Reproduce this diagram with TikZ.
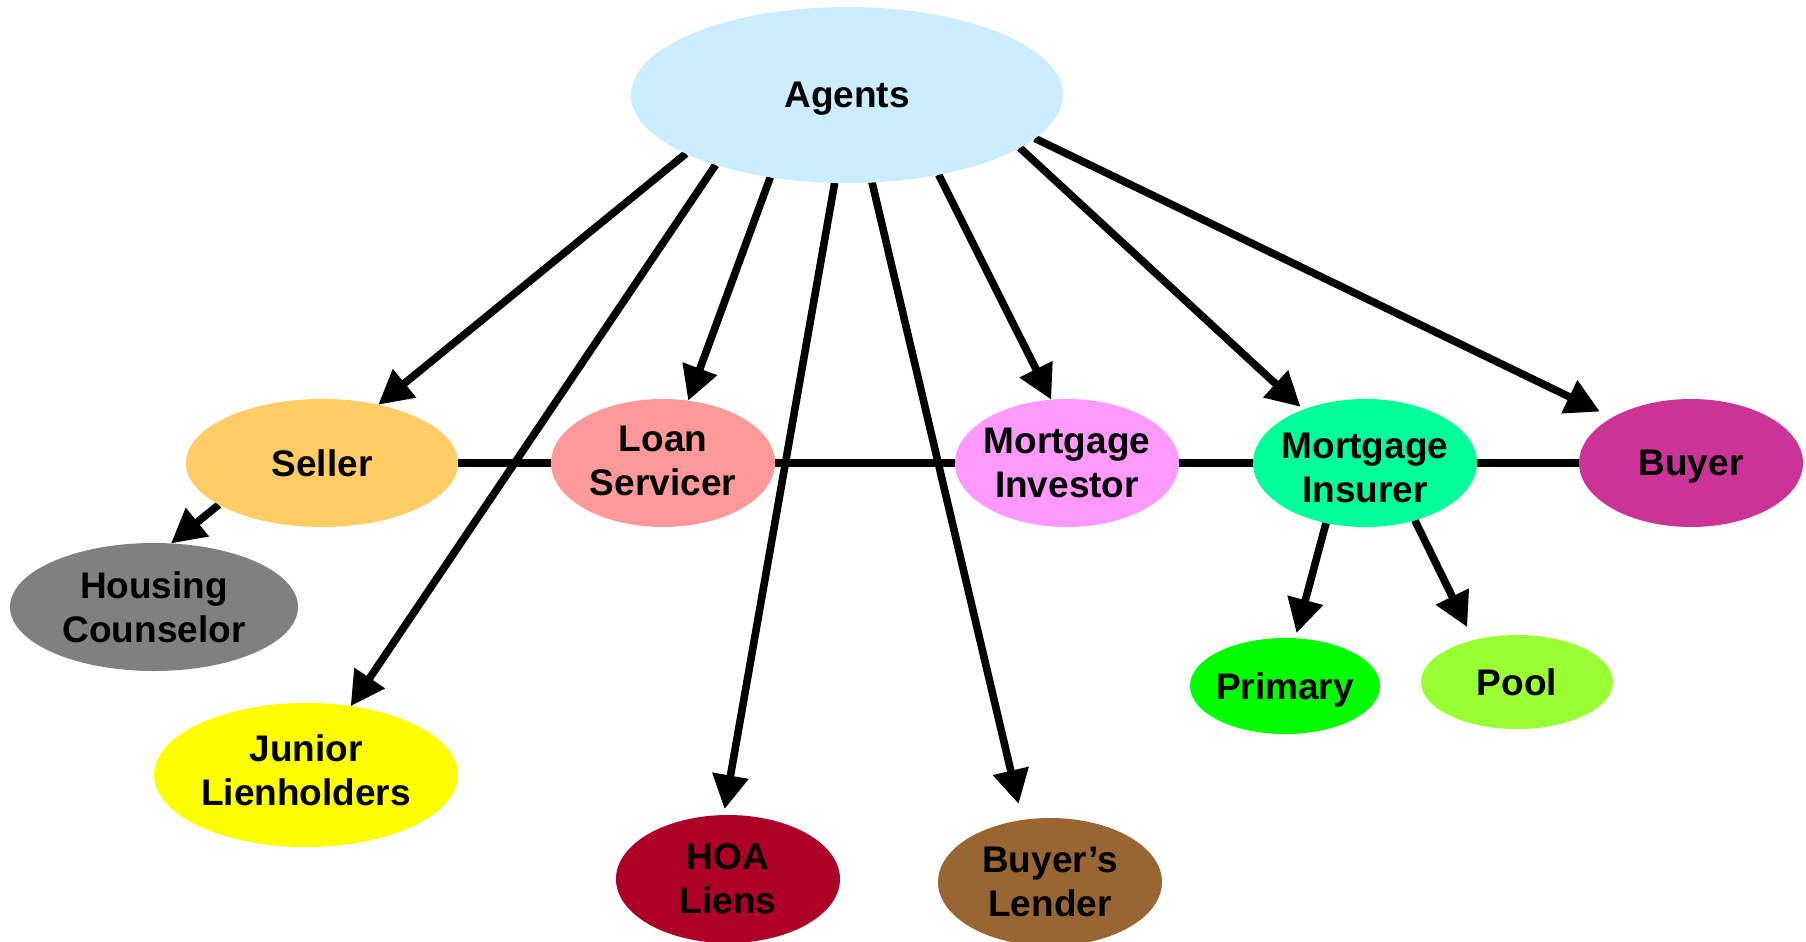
\documentclass[tikz,border=0pt]{standalone}
\usepackage{fontspec}
\setmainfont{Liberation Sans}
\usetikzlibrary{arrows.meta,shapes.geometric,backgrounds}
\definecolor{cAgents}{HTML}{CCECFF}
\definecolor{cSeller}{HTML}{FFCC66}
\definecolor{cCounsel}{HTML}{808080}
\definecolor{cJunior}{HTML}{FFFF00}
\definecolor{cLoan}{HTML}{FF9999}
\definecolor{cHOA}{HTML}{AE0026}
\definecolor{cLender}{HTML}{996633}
\definecolor{cInvestor}{HTML}{FF99FF}
\definecolor{cInsurer}{HTML}{00FF99}
\definecolor{cBuyer}{HTML}{CC3399}
\definecolor{cPrimary}{HTML}{00FF00}
\definecolor{cPool}{HTML}{99FF33}
\newcommand{\zw}[1]{\makebox[0pt]{#1}}
\newcommand{\zs}[2]{\makebox[0pt]{\raisebox{#1}[\height][\depth]{#2}}}
\begin{document}
\begin{tikzpicture}[x=0.5pt,y=-0.5pt,
  bubble/.style={ellipse, inner sep=0pt, outer sep=0pt, draw=none,
    font=\bfseries\fontsize{18.5}{22}\selectfont, align=center},
  link/.style={line width=3.8pt},
  arr/.style={line width=3.8pt, -{Triangle[length=17pt,width=17.5pt]}}
]
\useasboundingbox (0,0) rectangle (1806,942);
\node[bubble, fill=cAgents, minimum width=216pt, minimum height=88pt, text depth=0pt] (agents) at (847,95) {\zw{Agents}};
\node[bubble, fill=cSeller, minimum width=136pt, minimum height=64pt] (seller) at (322,463) {\zw{Seller}};
\node[bubble, fill=cCounsel, minimum width=144pt, minimum height=64pt] (counselor) at (154,607) {\zw{Housing}\\\zw{Counselor}};
\node[bubble, fill=cJunior, minimum width=152pt, minimum height=72pt] (junior) at (306,775) {\zs{2.5pt}{Junior}\\\zs{2.5pt}{Lienholders}};
\node[bubble, fill=cLoan, minimum width=112pt, minimum height=64pt] (loan) at (663,463) {\zs{1pt}{Loan}\\\zs{1pt}{Servicer}};
\node[bubble, fill=cHOA, minimum width=112pt, minimum height=64pt] (hoa) at (728,879) {\zw{HOA}\\\zw{Liens}};
\node[bubble, fill=cLender, minimum width=112pt, minimum height=64pt] (lender) at (1050,882) {\zw{Buyer’s}\\\zw{Lender}};
\node[bubble, fill=cInvestor, minimum width=112pt, minimum height=64pt] (investor) at (1067,463) {\zw{Mortgage}\\\zw{Investor}};
\node[bubble, fill=cInsurer, minimum width=112pt, minimum height=64pt] (insurer) at (1365,463) {\zs{-2.5pt}{Mortgage}\\\zs{-2.5pt}{Insurer}};
\node[bubble, fill=cBuyer, minimum width=112pt, minimum height=64pt, text depth=0pt] (buyer) at (1691,463) {\zw{Buyer}};
\node[bubble, fill=cPrimary, minimum width=95pt, minimum height=48pt, text depth=0pt] (primary) at (1285,686) {\zw{Primary}};
\node[bubble, fill=cPool, minimum width=96pt, minimum height=47pt] (pool) at (1517,682) {\zw{Pool}};
\begin{scope}[on background layer]
\draw[link] (seller) -- (buyer);
\draw[arr] (agents.200) -- (seller.46);
\draw[arr] (seller.202.2) -- (counselor.75.1);
\draw[arr] (agents.208.8) -- (junior.57.4);
\draw[arr] (agents.227.1) -- (loan.68.7);
\draw[arr, shorten >=3pt] (agents.262.8) -- (hoa.94.1);
\draw[arr, shorten >=8.25pt] (agents.286.6) -- (lender.114.6);
\draw[arr] (agents.319) -- (investor.104.7);
\draw[arr, shorten >=2pt] (agents.343.7) -- (insurer.139.7);
\draw[arr, shorten >=6.85pt] (agents.347.9) -- (buyer.150.6);
\draw[arr, shorten >=2.7pt] (insurer.237) -- (primary.78.6);
\draw[arr, shorten >=7.25pt] (insurer.311.9) -- (pool.136.3);
\end{scope}
\end{tikzpicture}
\end{document}
